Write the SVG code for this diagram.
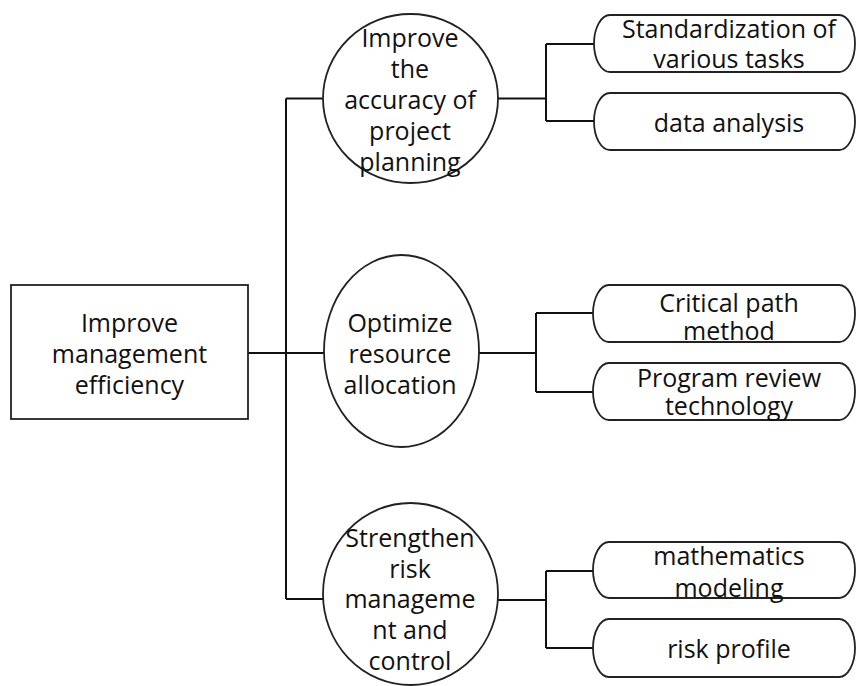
<svg xmlns="http://www.w3.org/2000/svg" width="857" height="686" viewBox="0 0 857 686">
<style>
.shape{fill:#fff;stroke:#222;stroke-width:1.8}
.conn{fill:none;stroke:#111;stroke-width:2}
text{font-family:"Open Sans","Noto Sans","Liberation Sans",sans-serif;font-size:25px;fill:#111;text-anchor:middle;dominant-baseline:central}
</style>
<rect width="857" height="686" fill="#fff"/>
<g id="connectors">
<path class="conn" d="M248 353 H286" stroke-width="3"/>
<path class="conn" d="M286 98.5 V599"/>
<path class="conn" d="M286 98.5 H323"/>
<path class="conn" d="M286 353 H324" stroke-width="1.5"/>
<path class="conn" d="M286 599 H323"/>
<path class="conn" d="M498 98.5 H546 M546 44 V121 M546 44 H594 M546 121 H594"/>
<path class="conn" d="M479 353 H536 M536 313 V392 M536 313 H593 M536 392 H593"/>
<path class="conn" d="M498 600 H546 M546 571 V648 M546 571 H593 M546 648 H593"/>
</g>
<g id="root">
<rect class="shape" x="11" y="285" width="237" height="134"/>
<text x="129.5" y="322">Improve</text>
<text x="129.5" y="353">management</text>
<text x="129.5" y="384">efficiency</text>
</g>
<g id="n1">
<ellipse class="shape" cx="410.5" cy="98.5" rx="87.5" ry="84.5"/>
<text x="410" y="37">Improve</text>
<text x="410" y="68">the</text>
<text x="410" y="99">accuracy of</text>
<text x="410" y="130">project</text>
<text x="410" y="161">planning</text>
</g>
<g id="n2">
<ellipse class="shape" cx="401.5" cy="351" rx="77.5" ry="96"/>
<text x="400" y="322">Optimize</text>
<text x="400" y="353">resource</text>
<text x="400" y="384">allocation</text>
</g>
<g id="n3">
<ellipse class="shape" cx="410.5" cy="594" rx="87.5" ry="91"/>
<text x="410" y="537">Strengthen</text>
<text x="410" y="568">risk</text>
<text x="410" y="598">manageme</text>
<text x="410" y="629">nt and</text>
<text x="410" y="660">control</text>
</g>
<g id="l1">
<path class="shape" d="M610 15 H839 A16 28.5 0 0 1 839 72 H610 A16 28.5 0 0 1 610 15 Z"/>
<text x="729" y="28">Standardization of</text>
<text x="729" y="58">various tasks</text>
</g>
<g id="l2">
<path class="shape" d="M610 93 H839 A16 28.5 0 0 1 839 150 H610 A16 28.5 0 0 1 610 93 Z"/>
<text x="729" y="122">data analysis</text>
</g>
<g id="l3">
<path class="shape" d="M609 285 H839 A16 28.5 0 0 1 839 342 H609 A16 28.5 0 0 1 609 285 Z"/>
<text x="729" y="302">Critical path</text>
<text x="729" y="330">method</text>
</g>
<g id="l4">
<path class="shape" d="M609 363 H839 A16 28.5 0 0 1 839 420 H609 A16 28.5 0 0 1 609 363 Z"/>
<text x="729" y="377">Program review</text>
<text x="729" y="405">technology</text>
</g>
<g id="l5">
<path class="shape" d="M609 542 H839 A16 28 0 0 1 839 598 H609 A16 28 0 0 1 609 542 Z"/>
<text x="729" y="555">mathematics</text>
<text x="729" y="587">modeling</text>
</g>
<g id="l6">
<path class="shape" d="M609 619 H839 A16 29 0 0 1 839 677 H609 A16 29 0 0 1 609 619 Z"/>
<text x="729" y="648">risk profile</text>
</g>
</svg>
